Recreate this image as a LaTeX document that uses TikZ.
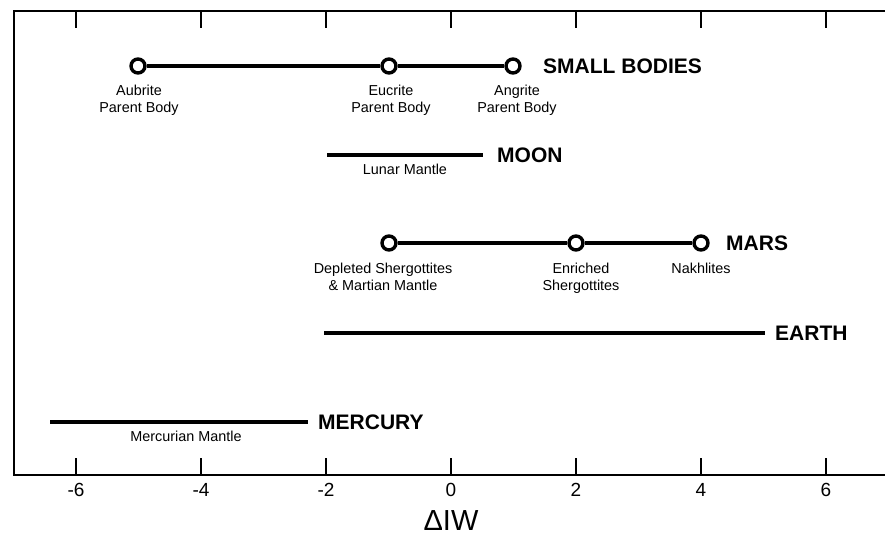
\documentclass[tikz,border=0pt]{standalone}
\usepackage{fontspec}
\setmainfont{Liberation Sans}
\begin{document}
\begin{tikzpicture}[x=1pt,y=-1pt,
  frameline/.style={line width=2pt, black},
  tickline/.style={line width=2.2pt, black},
  rangeline/.style={line width=4pt, black},
  sample/.style={circle, draw=black, fill=white, line width=3.4pt, minimum size=14pt, inner sep=0pt},
  smalllab/.style={anchor=north, inner sep=0pt, align=center, font=\fontsize{14.4}{16.8}\selectfont},
  bodylab/.style={anchor=west, inner sep=0pt, font=\fontsize{21}{24}\selectfont\bfseries},
  ticklab/.style={anchor=north, inner sep=0pt, font=\fontsize{19}{21}\selectfont},
  axislab/.style={anchor=base, inner sep=0pt, font=\fontsize{29}{33}\selectfont}]
\useasboundingbox (0,0) rectangle (885,536);
% frame
\coordinate (ftr) at (885,11);
\coordinate (ftl) at (13.5,11);
\coordinate (fbl) at (13.5,475);
\coordinate (fbr) at (885,475);
\draw[frameline] (ftr) -- (ftl) -- (fbl) -- (fbr);
% ticks and tick labels
\foreach \v/\x in {-6/76,-4/201,-2/326,0/451,2/576,4/701,6/826}{
  \coordinate (tt\v) at (\x,11);
  \coordinate (tte\v) at (\x,28);
  \coordinate (bt\v) at (\x,475);
  \coordinate (bte\v) at (\x,458);
  \draw[tickline] (tt\v) -- (tte\v);
  \draw[tickline] (bt\v) -- (bte\v);
  \node[ticklab] (tl\v) at (\x,483) {\v};
}
\node[axislab] (axis) at (451,530) {ΔIW};
% small bodies
\node[sample] (aub) at (138,66) {};
\node[sample] (euc) at (389,66) {};
\node[sample] (ang) at (513,66) {};
\draw[rangeline] (aub) -- (euc);
\draw[rangeline] (euc) -- (ang);
\node[smalllab] (aubl) at (139,85) {Aubrite\\Parent Body};
\node[smalllab] (eucl) at (391,85) {Eucrite\\Parent Body};
\node[smalllab] (angl) at (517,85) {Angrite\\Parent Body};
\node[bodylab] (sb) at (543,66) {SMALL BODIES};
% moon
\coordinate (m1) at (327,155);
\coordinate (m2) at (483,155);
\draw[rangeline] (m1) -- (m2);
\node[smalllab] (lun) at (405,164) {Lunar Mantle};
\node[bodylab] (moon) at (497,155) {MOON};
% mars
\node[sample] (dep) at (389,243) {};
\node[sample] (enr) at (576,243) {};
\node[sample] (nak) at (701,243) {};
\draw[rangeline] (dep) -- (enr);
\draw[rangeline] (enr) -- (nak);
\node[smalllab] (depl) at (383,263) {Depleted Shergottites\\\& Martian Mantle};
\node[smalllab] (enrl) at (581,263) {Enriched\\Shergottites};
\node[smalllab] (nakl) at (701,263) {Nakhlites};
\node[bodylab] (mars) at (726,243) {MARS};
% earth
\coordinate (e1) at (324,333);
\coordinate (e2) at (765,333);
\draw[rangeline] (e1) -- (e2);
\node[bodylab] (earth) at (775,333) {EARTH};
% mercury
\coordinate (h1) at (50,422);
\coordinate (h2) at (308,422);
\draw[rangeline] (h1) -- (h2);
\node[smalllab] (merl) at (186,431) {Mercurian Mantle};
\node[bodylab] (merc) at (318,422) {MERCURY};
\end{tikzpicture}
\end{document}
